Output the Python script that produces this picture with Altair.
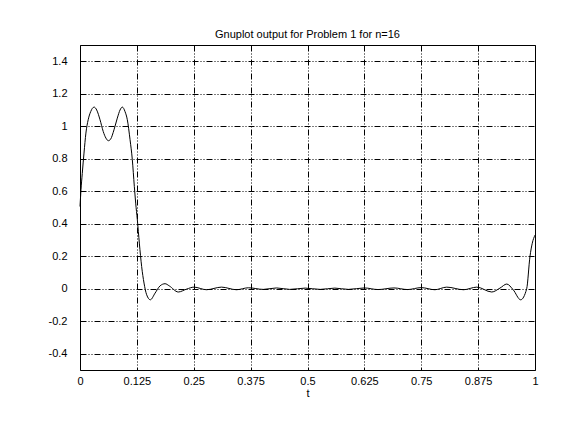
import altair as alt
import pandas as pd

t_vals = [0.0, 0.0022, 0.005, 0.0088, 0.013, 0.018, 0.0235, 0.031, 0.0367, 0.044,
          0.051, 0.057, 0.0623, 0.0674, 0.0747, 0.082, 0.088, 0.093, 0.099, 0.104,
          0.11, 0.115, 0.1194, 0.1224, 0.126, 0.1304, 0.1355, 0.1407, 0.1465, 0.1546,
          0.165, 0.176, 0.187, 0.196, 0.216, 0.2345, 0.2505, 0.278, 0.311, 0.344,
          0.37, 0.403, 0.432, 0.461, 0.495, 0.528, 0.56, 0.59, 0.625, 0.655,
          0.69, 0.72, 0.75, 0.78, 0.806, 0.843, 0.872, 0.905, 0.923, 0.938,
          0.952, 0.9685, 0.9817, 0.989, 0.994, 1.0]
v_vals = [0.506, 0.61, 0.71, 0.835, 0.958, 1.04, 1.09, 1.118, 1.10, 1.04,
          0.968, 0.927, 0.911, 0.921, 0.978, 1.05, 1.10, 1.118, 1.09, 1.04,
          0.917, 0.794, 0.63, 0.527, 0.425, 0.281, 0.137, 0.035, -0.037, -0.068,
          -0.027, 0.018, 0.031, 0.018, -0.02, -0.002, 0.01, -0.006, 0.01, -0.006,
          0.006, -0.004, 0.005, -0.004, 0.004, -0.004, 0.004, -0.004, 0.005, -0.005,
          0.005, -0.005, 0.007, -0.006, 0.01, -0.006, 0.01, -0.02, 0.004, 0.029,
          -0.006, -0.068, 0.0, 0.2, 0.28, 0.33]

x_ticks = [0, 0.125, 0.25, 0.375, 0.5, 0.625, 0.75, 0.875, 1]
y_ticks = [-0.4, -0.2, 0, 0.2, 0.4, 0.6, 0.8, 1, 1.2, 1.4]

df = pd.DataFrame({"t": t_vals, "v": v_vals})

FONT = "Liberation Sans"
dash = [6, 2, 1, 2, 1, 2]

chart = alt.Chart(df).mark_line(color="black", strokeWidth=1, interpolate="monotone").encode(
    x=alt.X("t:Q", title="t",
            scale=alt.Scale(domain=[0, 1], nice=False, zero=False),
            axis=alt.Axis(values=x_ticks, labelExpr="'' + datum.value", grid=True,
                          gridColor="black", gridDash=dash, gridOpacity=1, gridWidth=1,
                          ticks=False, tickSize=0, domain=False, labelPadding=5,
                          titlePadding=1, labelFont=FONT, titleFont=FONT,
                          labelFontSize=11, titleFontSize=11, labelColor="black",
                          titleColor="black", titleFontWeight="normal", labelFlush=False)),
    y=alt.Y("v:Q", title=None,
            scale=alt.Scale(domain=[-0.5, 1.5], nice=False, zero=False),
            axis=alt.Axis(values=y_ticks, labelExpr="'' + datum.value", grid=True,
                          gridColor="black", gridDash=dash, gridOpacity=1, gridWidth=1,
                          ticks=False, tickSize=0, domain=False, labelPadding=13,
                          labelFont=FONT, labelFontSize=11, labelColor="black")),
).properties(
    width=455, height=325,
    title=alt.TitleParams("Gnuplot output for Problem 1 for n=16", font=FONT, fontSize=11,
                          fontWeight="normal", color="black", anchor="middle", offset=5),
    autosize=alt.AutoSizeParams(type="none"),
    padding={"left": 72, "top": 37, "right": 23, "bottom": 59},
    background="white",
).configure_view(stroke="black", strokeWidth=1)

chart.save("out.html", embed_options={"renderer": "svg", "actions": False})
